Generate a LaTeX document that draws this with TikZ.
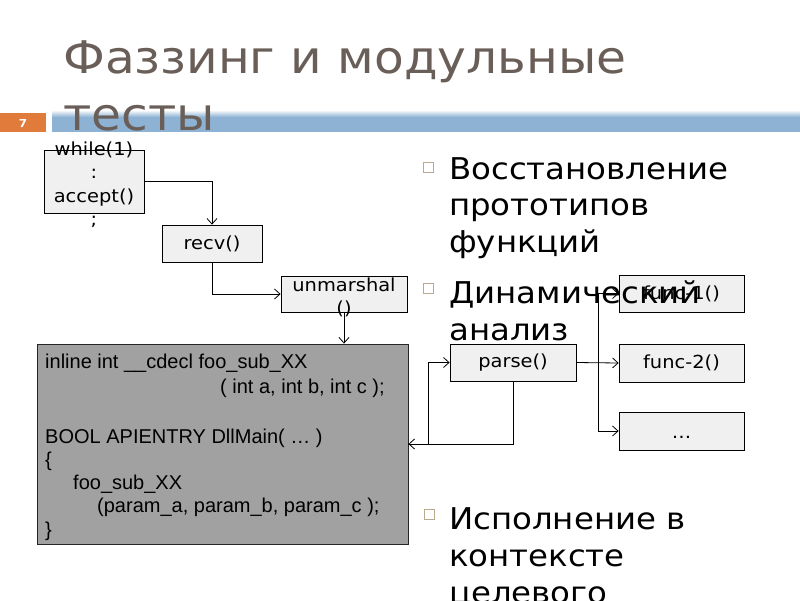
\documentclass[tikz,border=0pt]{standalone}
\usepackage{fontspec}
\setmainfont{DejaVu Sans}[FakeStretch=1.08]
\newfontfamily\codefont{Liberation Sans}
\usetikzlibrary{arrows.meta}
\definecolor{titlecol}{RGB}{106,94,88}
\definecolor{barblue}{RGB}{141,178,212}
\definecolor{barorange}{RGB}{224,123,60}
\definecolor{boxfill}{RGB}{240,240,240}
\definecolor{codefill}{RGB}{161,161,161}
\definecolor{bulletcol}{RGB}{184,170,140}
\tikzset{
  fbox/.style={draw=black, line width=0.8pt, fill=boxfill, inner sep=0pt},
  boxtext/.style={inner sep=0pt, font=\fontsize{18pt}{23.5pt}\selectfont},
  codebox/.style={draw=black!85, line width=0.9pt, fill=codefill, inner sep=0pt},
  codetext/.style={inner sep=0pt, anchor=base west, font=\codefont\fontsize{20pt}{24pt}\selectfont},
  bultext/.style={inner sep=0pt, anchor=base west, font=\fontsize{30pt}{36pt}\selectfont},
  bulsq/.style={draw=bulletcol, fill=white, line width=0.7pt, minimum size=10pt, inner sep=0pt},
  titletext/.style={inner sep=0pt, anchor=base west, text=titlecol, font=\fontsize{45pt}{56pt}\selectfont},
  conn/.style={draw=black, line width=0.8pt, -{Straight Barb[length=5.5pt,width=10pt]}},
  line/.style={draw=black, line width=0.8pt}
}
\begin{document}
\begin{tikzpicture}[x=1pt,y=-1pt]
\useasboundingbox (0,0) rectangle (800,600);
\fill[white] (0,0) rectangle (800,600);
% header bar
\fill[barorange] (0,113) rectangle (46,132);
\node[inner sep=0pt, text=white, font=\bfseries\fontsize{11pt}{11pt}\selectfont] (pagenum) at (23,123) {7};
\shade[top color=white, bottom color=barblue] (52,110) rectangle (800,117);
\fill[barblue] (52,117) rectangle (800,132);
% title
\node[titletext] (title1) at (63,73) {Фаззинг и модульные};
\node[titletext] (title2) at (63,130) {тесты};
% boxes
\node[fbox, minimum width=100pt, minimum height=63pt] (while) at (94,181.5) {};
\node[fbox, minimum width=100pt, minimum height=37pt] (recv) at (212,243.5) {};
\node[boxtext] (recvtxt) at (recv.center) {recv()};
\node[fbox, minimum width=126pt, minimum height=36pt] (unm) at (344,294) {};
\node[codebox, minimum width=371pt, minimum height=200pt] (code) at (222.5,444) {};
\node[fbox, minimum width=126pt, minimum height=37pt] (parse) at (513,362.5) {};
\node[boxtext] (parsetxt) at (parse.center) {parse()};
\node[fbox, minimum width=125pt, minimum height=37pt] (f1) at (681.5,293.5) {};
\node[boxtext] (f1txt) at (f1.center) {func-1()};
\node[fbox, minimum width=125pt, minimum height=38pt] (f2) at (681.5,363) {};
\node[boxtext] (f2txt) at (f2.center) {func-2()};
\node[fbox, minimum width=125pt, minimum height=38pt] (f3) at (681.5,431) {};
\node[boxtext, anchor=base] (f3txt) at (681.5,438) {…};
% overflowing texts
\node[boxtext, anchor=base] (w1) at (94,155) {while(1)};
\node[boxtext, anchor=base] (w2) at (94,178.5) {:};
\node[boxtext, anchor=base] (w3) at (94,202) {accept()};
\node[boxtext, anchor=base] (w4) at (94,225.5) {;};
\node[boxtext, anchor=base] (u1) at (344,291) {unmarshal};
\node[boxtext, anchor=base] (u2) at (344,314) {()};
% code
\node[codetext] (c1) at (45,368) {inline int \_\_cdecl foo\_sub\_XX};
\node[codetext] (c2) at (220,393) {( int a, int b, int c );};
\node[codetext] (c3) at (45,443) {BOOL APIENTRY DllMain( … )};
\node[codetext] (c4) at (45,466) {\{};
\node[codetext] (c5) at (73,489) {foo\_sub\_XX};
\node[codetext] (c6) at (97,512) {(param\_a, param\_b, param\_c );};
\node[codetext] (c7) at (45,536) {\}};
% connectors
\coordinate (loopx) at (428,444);
\coordinate (fork) at (598,363);
\draw[conn] (while.east) -| (recv.north);
\draw[conn] (recv.south) |- (unm.west);
\draw[conn] (unm.south) -- (unm.south |- code.north);
\draw[conn] (parse.south) |- (code.east);
\draw[line] (code.east) -- (loopx);
\draw[conn] (loopx) |- (parse.west);
\draw[conn] (parse.east) -- (f2.west);
\draw[conn] (fork) |- (f1.west);
\draw[conn] (fork) |- (f3.west);
% bullets
\node[bulsq] (b1) at (428.5,167) {};
\node[bultext] (t1a) at (449,179) {Восстановление};
\node[bultext] (t1b) at (449,215.5) {прототипов};
\node[bultext] (t1c) at (449,252) {функций};
\node[bulsq] (b2) at (428,288.5) {};
\node[bultext] (t2a) at (449,303) {Динамический};
\node[bultext] (t2b) at (449,340) {анализ};
\node[bulsq] (b3) at (429,514) {};
\node[bultext] (t3a) at (449,529) {Исполнение в};
\node[bultext] (t3b) at (449,566) {контексте};
\node[bultext] (t3c) at (449,603) {целевого};
\end{tikzpicture}
\end{document}
